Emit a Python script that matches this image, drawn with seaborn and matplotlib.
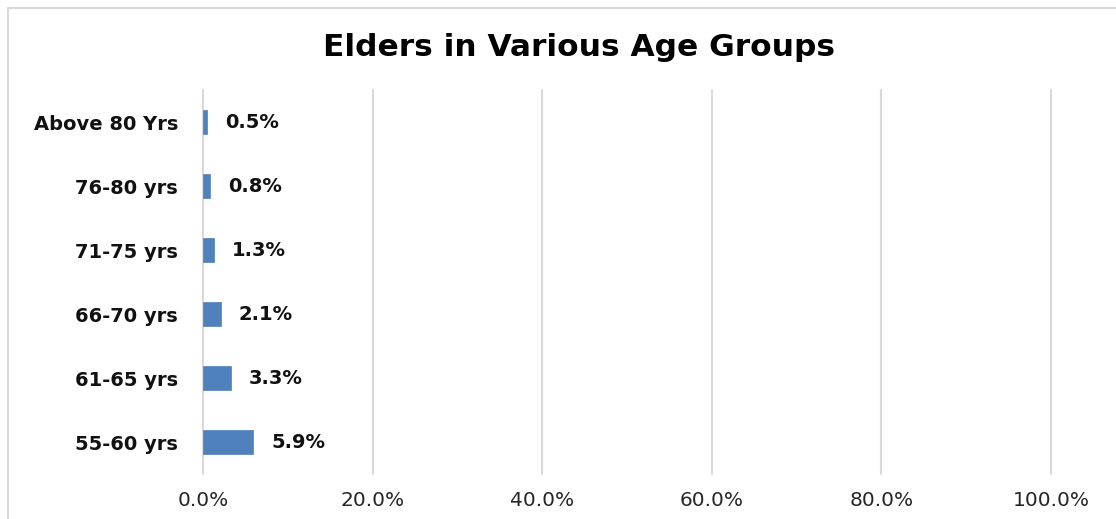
import matplotlib
matplotlib.use("Agg")
import matplotlib.pyplot as plt
import seaborn as sns
import pandas as pd
from matplotlib.lines import Line2D
from matplotlib.ticker import FuncFormatter

categories = ["Above 80 Yrs", "76-80 yrs", "71-75 yrs", "66-70 yrs", "61-65 yrs", "55-60 yrs"]
values = [0.005, 0.008, 0.013, 0.021, 0.033, 0.059]
x_ticks = [0.0, 0.2, 0.4, 0.6, 0.8, 1.0]
title = "Elders in Various Age Groups"

sns.set_theme(style="white")
plt.rcParams['font.family'] = ['DejaVu Sans']

df = pd.DataFrame({"category": categories, "value": values})

fig = plt.figure(figsize=(11.16, 5.19), dpi=100)
ax = fig.add_axes([203/1116, 1-474/519, (1051-203)/1116, (474-90)/519])

sns.barplot(data=df, y="category", x="value", order=categories, color="#4F81BD",
            width=0.37, ax=ax, saturation=1, edgecolor="#4F81BD", linewidth=0.5)

ax.set_xlim(0, 1.0)
ax.set_ylim(5.5, -0.5)
ax.set_xticks(x_ticks)
ax.xaxis.set_major_formatter(FuncFormatter(lambda v, p: f"{v*100:.1f}%"))
ax.grid(axis="x", color="#d9d9d9", linewidth=1.5)
ax.grid(axis="y", visible=False)
for gl in ax.get_xgridlines():
    gl.set_clip_on(False)
ax.set_axisbelow(True)
for s in ax.spines.values():
    s.set_visible(False)
ax.set_xlabel("")
ax.set_ylabel("")
ax.tick_params(axis="x", length=0, pad=12, labelsize=14.5, labelcolor="#262626")
ax.tick_params(axis="y", length=0, pad=18, labelsize=14)
for lbl in ax.get_yticklabels():
    lbl.set_fontweight("bold")
    lbl.set_color("#111111")

for i, v in enumerate(values):
    ax.annotate(f"{v*100:.1f}%", xy=(v, i), xytext=(18, 0), textcoords="offset pixels",
                ha="left", va="center", fontsize=14, fontweight="bold", color="#111111")

fig.text(579/1116, 1-48/519, title, ha="center", va="center", fontsize=22.5,
         fontweight="bold", color="#000000")

# chart border (top and left visible)
fig.add_artist(Line2D([8/1116, 1.0], [1-8/519, 1-8/519], transform=fig.transFigure,
                      color="#d9d9d9", linewidth=1.5))
fig.add_artist(Line2D([8/1116, 8/1116], [1-8/519, 0], transform=fig.transFigure,
                      color="#d9d9d9", linewidth=1.5))

fig.savefig("out.png", dpi=100, facecolor="white")
